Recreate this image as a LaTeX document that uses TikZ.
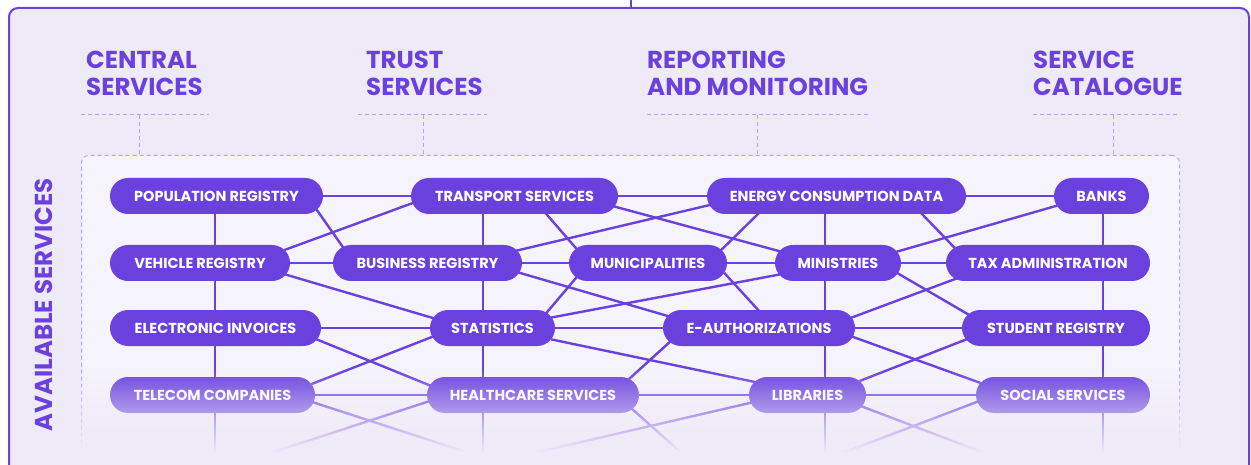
\documentclass[tikz,border=0pt]{standalone}
\usepackage{fontspec}
\setmainfont{Poppins}
\usepackage{tikz}
\usetikzlibrary{positioning, fadings}
\definecolor{brand}{HTML}{6A41DD}
\definecolor{panel}{HTML}{EEEAF8}
\definecolor{inner}{HTML}{F5F3FC}
\definecolor{guide}{HTML}{B5A4EE}
\pgfdeclarelayer{boxes}
\pgfdeclarelayer{links}
\pgfdeclarelayer{fade}
\pgfsetlayers{boxes,links,main,fade}
\tikzfading[name=fadeout, top color=transparent!100, bottom color=transparent!0]

\begin{document}
\begin{tikzpicture}[x=1pt, y=-1pt,
    head/.style={font=\bfseries\fontsize{24.5}{27}\selectfont, text=brand, align=left, anchor=north west, inner sep=0pt},
    service/.style={rectangle, rounded corners=18pt, fill=brand, text=white, minimum height=36pt, inner xsep=2pt, font=\bfseries\fontsize{14.5}{16}\selectfont},
    link/.style={draw=brand, line width=2.4pt, shorten <=-3pt, shorten >=-3pt},
    guideline/.style={draw=guide, line width=1pt, dash pattern=on 4pt off 3pt}
]
    \useasboundingbox (0,0) rectangle (1251,465);

    % Frame and service area
    \begin{pgfonlayer}{boxes}
    \node[draw=brand, line width=2pt, fill=panel, rounded corners=9pt, minimum width=1240pt, minimum height=480pt, anchor=north west, inner sep=0pt] (panel) at (8,7) {};
    \coordinate (stem) at (631,-2);
    \draw[brand, line width=2pt] (stem) -- (stem |- panel.north);
    \node[guideline, fill=inner, rounded corners=7pt, minimum width=1098pt, minimum height=320pt, anchor=north west, inner sep=0pt] (area) at (81,155) {};
    \end{pgfonlayer}

    % Headers
    \node[head] (central) at (86,51) {CENTRAL\\SERVICES};
    \node[head] (trust) at (366,51) {TRUST\\SERVICES};
    \node[head] (reporting) at (647,51) {REPORTING\\AND MONITORING};
    \node[head] (catalogue) at (1033,51) {SERVICE\\CATALOGUE};
    \node[head, anchor=center, rotate=90] (available) at (44,305) {AVAILABLE SERVICES};

    \coordinate (centraltick) at (139,115);
    \coordinate (trusttick) at (423,115);
    \coordinate (reportingtick) at (757,115);
    \coordinate (cataloguetick) at (1113,115);
    \draw[guideline] (81,115) -- (209,115);
    \draw[guideline] (358,115) -- (487,115);
    \draw[guideline] (647,115) -- (869,115);
    \draw[guideline] (1033,115) -- (1180,115);
    \draw[guideline] (centraltick) -- (centraltick |- area.north);
    \draw[guideline] (trusttick) -- (trusttick |- area.north);
    \draw[guideline] (reportingtick) -- (reportingtick |- area.north);
    \draw[guideline] (cataloguetick) -- (cataloguetick |- area.north);

    % Services
    \node[service, minimum width=213pt] (population) at (216.5,196) {POPULATION REGISTRY};
    \node[service, minimum width=207pt] (transport) at (514.5,196) {TRANSPORT SERVICES};
    \node[service, minimum width=259pt] (energy) at (836.5,196) {ENERGY CONSUMPTION DATA};
    \node[service, minimum width=95pt] (banks) at (1101.5,196) {BANKS};

    \node[service, minimum width=180pt] (vehicle) at (200,263) {VEHICLE REGISTRY};
    \node[service, minimum width=189pt] (business) at (427.5,263) {BUSINESS REGISTRY};
    \node[service, minimum width=158pt] (municipalities) at (648,263) {MUNICIPALITIES};
    \node[service, minimum width=126pt] (ministries) at (838,263) {MINISTRIES};
    \node[service, minimum width=204pt] (tax) at (1048,263) {TAX ADMINISTRATION};

    \node[service, minimum width=211pt] (invoices) at (215.5,328) {ELECTRONIC INVOICES};
    \node[service, minimum width=125pt] (statistics) at (492.5,328) {STATISTICS};
    \node[service, minimum width=192pt] (eauth) at (759,328) {E-AUTHORIZATIONS};
    \node[service, minimum width=188pt] (student) at (1056,328) {STUDENT REGISTRY};

    \node[service, minimum width=205pt] (telecom) at (212.5,395) {TELECOM COMPANIES};
    \node[service, minimum width=212pt] (healthcare) at (533,395) {HEALTHCARE SERVICES};
    \node[service, minimum width=117pt] (libraries) at (807.5,395) {LIBRARIES};
    \node[service, minimum width=174pt] (social) at (1063,395) {SOCIAL SERVICES};

    % Links
    \begin{pgfonlayer}{links}
    \draw[link] (population) -- (transport);
    \draw[link] (transport) -- (energy);
    \draw[link] (energy) -- (banks);
    \draw[link] (vehicle) -- (business);
    \draw[link] (business) -- (municipalities);
    \draw[link] (municipalities) -- (ministries);
    \draw[link] (ministries) -- (tax);
    \draw[link] (invoices) -- (statistics);
    \draw[link] (statistics) -- (eauth);
    \draw[link] (eauth) -- (student);
    \draw[link] (telecom) -- (healthcare);
    \draw[link] (healthcare) -- (libraries);
    \draw[link] (libraries) -- (social);

    \coordinate (c1) at (215,450);
    \coordinate (c2) at (483,450);
    \coordinate (c3) at (825,450);
    \coordinate (c4) at (1103,450);
    \draw[link] (c1 |- population) -- (c1);
    \draw[link] (c2 |- transport) -- (c2);
    \draw[link] (c3 |- energy) -- (c3);
    \draw[link] (c4 |- banks) -- (c4);

    \draw[link] ([shift={(-7,13)}]population.east) -- ([shift={(10,-16)}]business.west);
    \draw[link] ([shift={(-3,-14)}]vehicle.east) -- ([shift={(2,7)}]transport.west);
    \draw[link] ([shift={(-3,12)}]vehicle.east) -- ([shift={(3,-10)}]statistics.west);
    \draw[link] ([shift={(32,0)}]transport.south) -- ([shift={(7,-15)}]municipalities.west);
    \draw[link] ([shift={(-2,11)}]transport.east) -- ([shift={(4,-12)}]ministries.west);
    \draw[link] ([shift={(-3,-13)}]business.east) -- ([shift={(3,9)}]energy.west);
    \draw[link] ([shift={(-4,-15)}]municipalities.east) -- ([shift={(51,0)}]energy.south west);
    \draw[link] ([shift={(-44,0)}]energy.south east) -- ([shift={(9,-15)}]tax.west);
    \draw[link] ([shift={(-2,-12)}]ministries.east) -- ([shift={(2,10)}]banks.west);
    \draw[link] ([shift={(-2,10)}]business.east) -- ([shift={(5,-12)}]eauth.west);
    \draw[link] ([shift={(8,14)}]municipalities.west) -- ([shift={(-8,-16)}]statistics.east);
    \draw[link] ([shift={(2,12)}]ministries.west) -- ([shift={(-1,-11)}]statistics.east);
    \draw[link] ([shift={(-1,12)}]municipalities.east) -- ([shift={(-1,0)}]eauth.north);
    \draw[link] ([shift={(-4,10)}]ministries.east) -- ([shift={(4,-15)}]student.west);
    \draw[link] ([shift={(12,15)}]tax.west) -- ([shift={(-2,-11)}]eauth.east);
    \draw[link] ([shift={(-3,12)}]invoices.east) -- ([shift={(2,-10)}]healthcare.west);
    \draw[link] ([shift={(-1,-12)}]telecom.east) -- ([shift={(2,9)}]statistics.west);
    \draw[link] ([shift={(-1,12)}]statistics.east) -- ([shift={(6,-13)}]libraries.west);
    \draw[link] ([shift={(-9,-17)}]healthcare.east) -- ([shift={(7,14)}]eauth.west);
    \draw[link] ([shift={(-2,9)}]eauth.east) -- ([shift={(2,-13)}]social.west);
    \draw[link] ([shift={(-4,-15)}]libraries.east) -- ([shift={(3,12)}]student.west);

    % Links running off below
    \coordinate (t1) at (506,465);
    \coordinate (t2) at (234,465);
    \coordinate (t3) at (695,465);
    \coordinate (t4) at (482,465);
    \coordinate (t5) at (1016,465);
    \coordinate (t6) at (811,465);
    \draw[link] ([shift={(0,8)}]telecom.east) -- (t1);
    \draw[link] ([shift={(0,7)}]healthcare.west) -- (t2);
    \draw[link] ([shift={(-6,15)}]healthcare.east) -- (t3);
    \draw[link] ([shift={(1,8)}]libraries.west) -- (t4);
    \draw[link] ([shift={(-3,12)}]libraries.east) -- (t5);
    \draw[link] ([shift={(1,7)}]social.west) -- (t6);
    \end{pgfonlayer}

    % Fade out the bottom row
    \begin{pgfonlayer}{fade}
    \fill[panel, path fading=fadeout] (74,368) rectangle (1186,452);
    \fill[panel] (74,452) rectangle (1186,470);
    \end{pgfonlayer}
\end{tikzpicture}
\end{document}
